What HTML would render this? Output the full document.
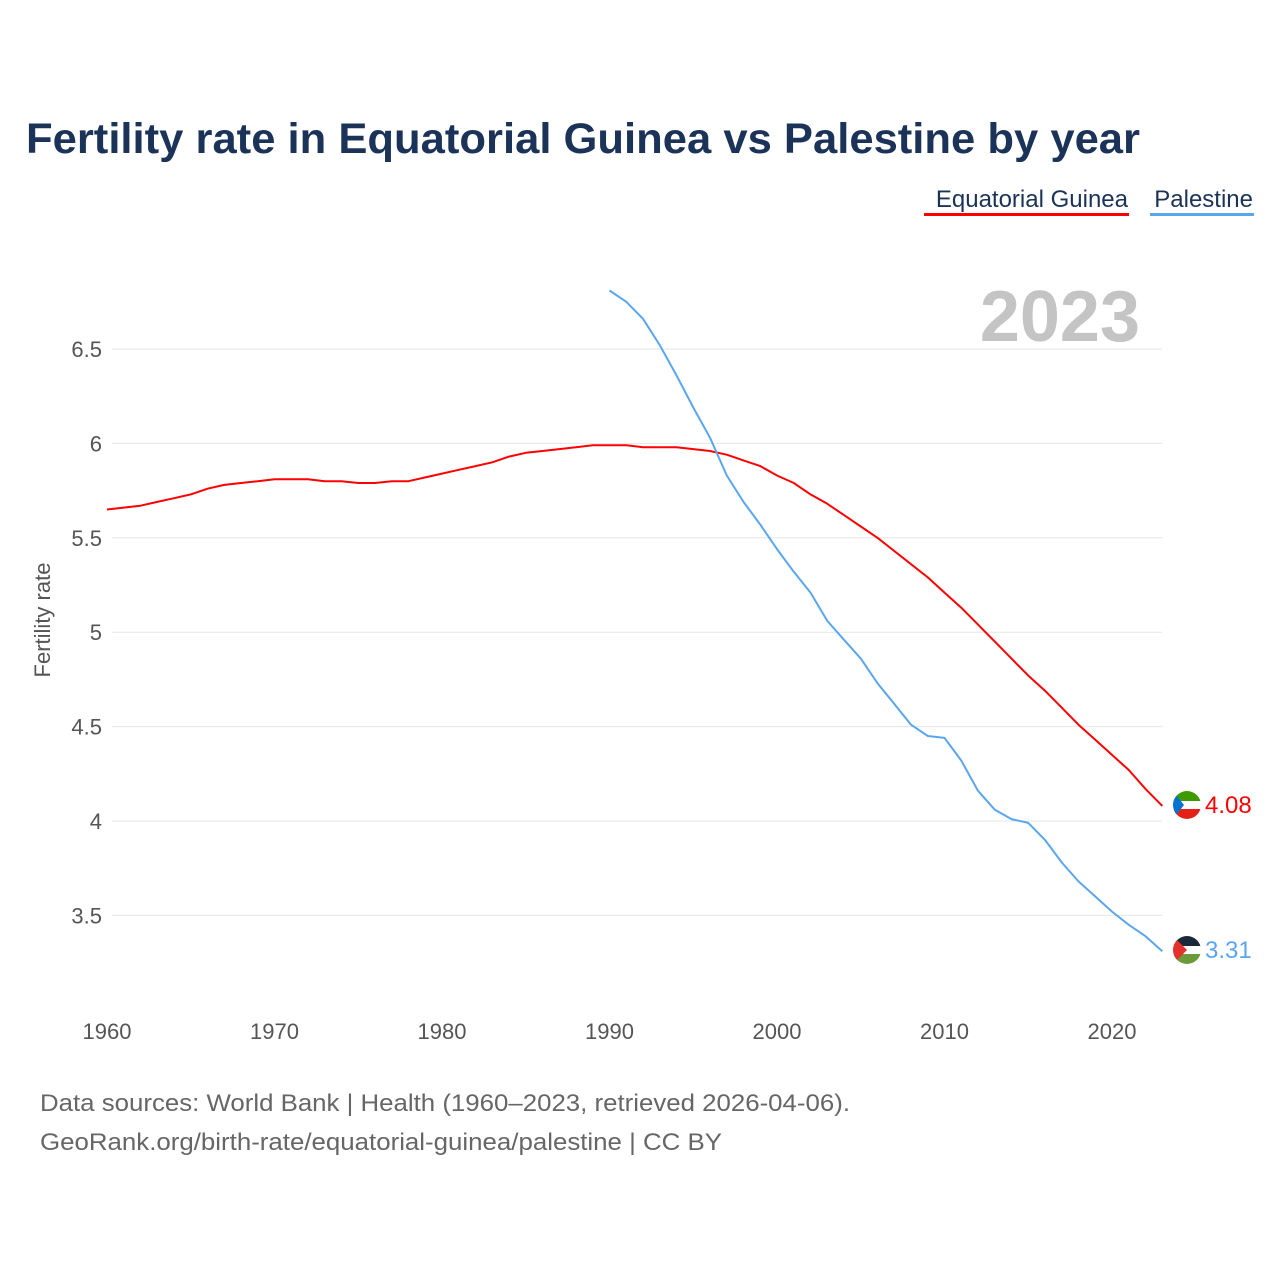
<!DOCTYPE html>
<html><head><meta charset="utf-8"><style>
body{margin:0;background:#fff;font-family:"Liberation Sans",sans-serif;}
svg text{font-family:"Liberation Sans",sans-serif;}
</style></head><body>
<svg width="1280" height="1280" viewBox="0 0 1280 1280" xmlns="http://www.w3.org/2000/svg">
<rect width="1280" height="1280" fill="#fff"/>
<text x="26" y="153" font-size="43" font-weight="bold" fill="#1b3358" textLength="1114" lengthAdjust="spacingAndGlyphs">Fertility rate in Equatorial Guinea vs Palestine by year</text>
<g>
<text x="1128" y="207" font-size="24" fill="#1b3358" text-anchor="end">Equatorial Guinea</text>
<rect x="924" y="213" width="205" height="3" fill="#f00"/>
<text x="1253" y="207" font-size="24" fill="#1b3358" text-anchor="end">Palestine</text>
<rect x="1150" y="213" width="104" height="3" fill="#5aa6ee"/>
</g>
<text x="1140" y="341" font-size="72" font-weight="bold" fill="#c4c4c4" text-anchor="end">2023</text>
<g id="grid"></g><g id="yticks"></g><g id="xticks"></g><g id="lines"></g>
<text transform="translate(50,620) rotate(-90)" font-size="22" fill="#555" text-anchor="middle">Fertility rate</text>
<g>
<clipPath id="c1"><circle cx="1187" cy="805" r="14"/></clipPath>
<g clip-path="url(#c1)"><rect x="1173" y="791" width="28" height="10" fill="#3e9a00"/><rect x="1173" y="801" width="28" height="8" fill="#fff"/><rect x="1173" y="809" width="28" height="10" fill="#e32118"/><polygon points="1173,791 1184,805 1173,819" fill="#0073ce"/></g>
</g>
<g>
<clipPath id="c2"><circle cx="1187" cy="950" r="14"/></clipPath>
<g clip-path="url(#c2)"><rect x="1173" y="936" width="28" height="10" fill="#1b2a3a"/><rect x="1173" y="946" width="28" height="8" fill="#fff"/><rect x="1173" y="954" width="28" height="10" fill="#6a9a3a"/><polygon points="1173,936 1187,950 1173,964" fill="#e4312b"/></g>
</g>
<text x="1205" y="813" font-size="24" fill="#f00">4.08</text>
<text x="1205" y="958" font-size="24" fill="#5aa6ee">3.31</text>
<text x="40" y="1111" font-size="24" fill="#666" textLength="810" lengthAdjust="spacingAndGlyphs">Data sources: World Bank | Health (1960–2023, retrieved 2026-04-06).</text>
<text x="40" y="1150" font-size="24" fill="#666" textLength="682" lengthAdjust="spacingAndGlyphs">GeoRank.org/birth-rate/equatorial-guinea/palestine | CC BY</text>
</svg>
<script>
const yTicks=[3.5,4,4.5,5,5.5,6,6.5];
const yTickLabels=["3.5","4","4.5","5","5.5","6","6.5"];
const xTicks=[1960,1970,1980,1990,2000,2010,2020];
const egStart=1960;
const egValues=[5.65,5.66,5.67,5.69,5.71,5.73,5.76,5.78,5.79,5.80,5.81,5.81,5.81,5.80,5.80,5.79,5.79,5.80,5.80,5.82,5.84,5.86,5.88,5.90,5.93,5.95,5.96,5.97,5.98,5.99,5.99,5.99,5.98,5.98,5.98,5.97,5.96,5.94,5.91,5.88,5.83,5.79,5.73,5.68,5.62,5.56,5.50,5.43,5.36,5.29,5.21,5.13,5.04,4.95,4.86,4.77,4.69,4.60,4.51,4.43,4.35,4.27,4.17,4.08];
const psStart=1990;
const psValues=[6.81,6.75,6.66,6.52,6.36,6.19,6.03,5.83,5.69,5.57,5.44,5.32,5.21,5.06,4.96,4.86,4.73,4.62,4.51,4.45,4.44,4.32,4.16,4.06,4.01,3.99,3.90,3.78,3.68,3.60,3.52,3.45,3.39,3.31];
const NS="http://www.w3.org/2000/svg";
const xs=y=>107+(y-1960)*16.75;
const ys=v=>821-(v-4)*188.8;
function mk(t,a,p){const e=document.createElementNS(NS,t);for(const k in a)e.setAttribute(k,a[k]);document.getElementById(p).appendChild(e);return e;}
yTicks.forEach((v,i)=>{
 const l=mk('line',{x1:112,x2:1162,y1:ys(v),y2:ys(v),stroke:'#e6e6e6','stroke-width':1},'grid');
 
 
 const t=mk('text',{x:102,y:ys(v)+8,'font-size':22,fill:'#555','text-anchor':'end'},'yticks');
 t.textContent=yTickLabels[i];
 
 
});
xTicks.forEach(y=>{
 const t=mk('text',{x:xs(y),y:1039,'font-size':22,fill:'#555','text-anchor':'middle'},'xticks');
 t.textContent=y;
 
 
});
function line(vals,start,col,name){
 const d=vals.map((v,i)=>(i?'L':'M')+xs(start+i).toFixed(1)+','+ys(v).toFixed(1)).join('');
 const p=mk('path',{d:d,fill:'none',stroke:col,'stroke-width':2,'stroke-linejoin':'round'},'lines');
 
 
}
line(egValues,egStart,'#f00','line-equatorial-guinea');
line(psValues,psStart,'#5aa6ee','line-palestine');
</script>
</body></html>
